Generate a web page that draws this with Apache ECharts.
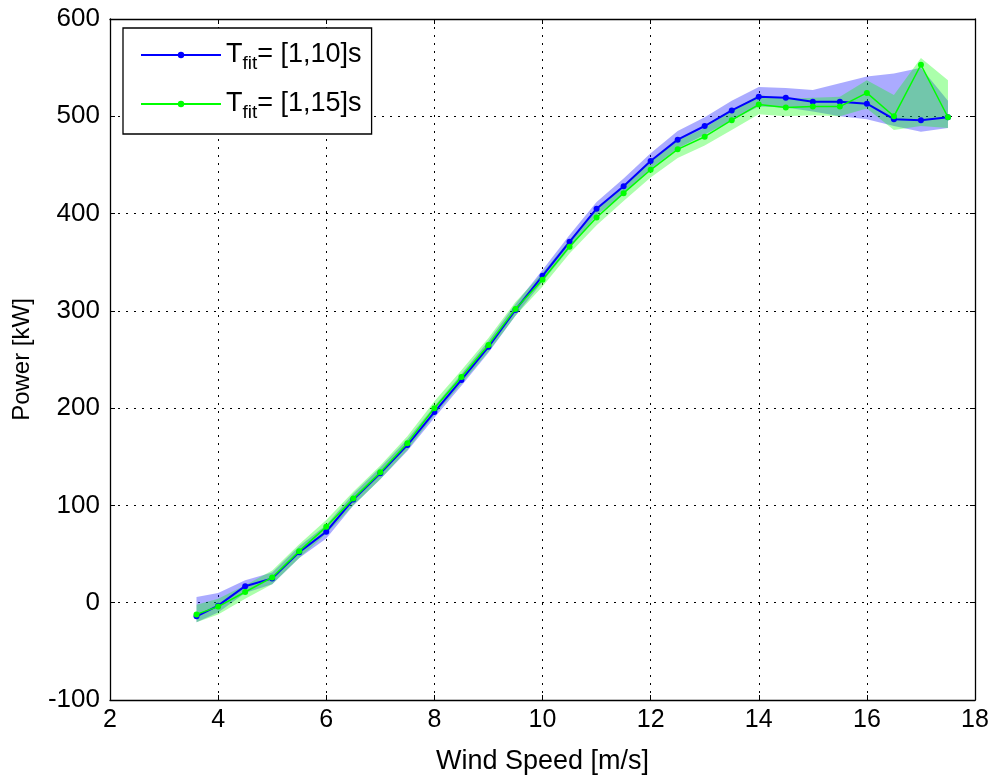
<!DOCTYPE html>
<html>
<head>
<meta charset="utf-8">
<script src="https://cdn.jsdelivr.net/npm/echarts@6/dist/echarts.min.js"></script>
<style>
html,body{margin:0;padding:0;background:#fff;}
#chart{width:992px;height:778px;}
</style>
</head>
<body>
<div id="chart"></div>
<script>
const windSpeed = [3.6, 4, 4.5, 5, 5.5, 6, 6.5, 7, 7.5, 8, 8.5, 9, 9.5, 10, 10.5, 11, 11.5, 12, 12.5, 13, 13.5, 14, 14.5, 15, 15.5, 16, 16.5, 17, 17.5];

const power10 = [-14, -3, 17, 25, 52, 73, 106, 133, 162, 196, 229, 263, 301, 336, 371, 405, 428, 454, 476, 490, 506, 520, 519, 515, 515, 513, 497, 496, 499];
const power10Upper = [6, 10, 23, 31, 58, 80, 112, 139, 168, 202, 235, 269, 307, 342, 378, 412, 436, 462, 485, 499, 516, 530, 529, 527, 534, 541, 544, 550, 516];
const power10Lower = [-20, -10, 10, 19, 46, 66, 100, 127, 156, 190, 223, 257, 295, 330, 364, 398, 420, 446, 467, 481, 496, 510, 509, 505, 500, 497, 490, 484, 488];

const power15 = [-12, -4, 11, 26, 53, 78, 107, 134, 164, 200, 232, 265, 302, 332, 366, 396, 421, 445, 466, 479, 496, 512, 509, 510, 510, 524, 500, 553, 499];
const power15Upper = [-2, 4, 18, 33, 60, 85, 114, 141, 171, 207, 239, 272, 309, 339, 373, 404, 429, 453, 475, 488, 506, 522, 518, 519, 520, 537, 522, 560, 537];
const power15Lower = [-20, -12, 4, 19, 46, 71, 100, 127, 157, 193, 225, 258, 295, 325, 359, 388, 413, 437, 457, 470, 486, 502, 500, 501, 500, 508, 486, 490, 488];

const xTicks = [2, 4, 6, 8, 10, 12, 14, 16, 18];
const yTicks = [-100, 0, 100, 200, 300, 400, 500, 600];
const seriesNames = ['T_fit= [1,10]s', 'T_fit= [1,15]s'];

const FONT = "'Liberation Sans', Arial, sans-serif";

function pairs(ys) { return windSpeed.map((x, i) => [x, ys[i]]); }

function bandSeries(upper, lower, fill, z) {
  return {
    type: 'custom',
    silent: true,
    z: z,
    data: [0],
    clip: true,
    encode: {x: -1, y: -1},
    renderItem: function (params, api) {
      const pts = [];
      for (let i = 0; i < windSpeed.length; i++) pts.push(api.coord([windSpeed[i], upper[i]]));
      for (let i = windSpeed.length - 1; i >= 0; i--) pts.push(api.coord([windSpeed[i], lower[i]]));
      return {type: 'polygon', shape: {points: pts}, style: {fill: fill, stroke: null}};
    }
  };
}

const chart = echarts.init(document.getElementById('chart'), null, {renderer: 'canvas'});

const gridLine = {show: true, lineStyle: {color: '#000', width: 1, type: [2, 6]}};
const axisLine = {show: true, onZero: false, lineStyle: {color: '#000', width: 1.3}};
const axisTick = {show: true, inside: true, length: 5, lineStyle: {color: '#000', width: 1}};

const option = {
  backgroundColor: '#fff',
  animation: false,
  grid: {left: 110, right: 17, top: 19, bottom: 78, containLabel: false, outerBoundsMode: 'none'},
  legend: {
    data: seriesNames,
    orient: 'vertical',
    left: 123,
    top: 28,
    padding: [12, 10, 12, 17],
    itemGap: 16,
    itemWidth: 80,
    itemHeight: 8,
    backgroundColor: '#fff',
    borderColor: '#000',
    borderWidth: 1.3,
    borderRadius: 0,
    formatter: function (name) {
      const rest = name.replace('T_fit', '');
      return '{t|T}{s|fit}{t|' + rest + '}';
    },
    textStyle: {
      color: '#000',
      fontFamily: FONT,
      rich: {
        t: {fontSize: 27, fontFamily: FONT, color: '#000', lineHeight: 36, verticalAlign: 'middle'},
        s: {fontSize: 19, fontFamily: FONT, color: '#000', lineHeight: 36, verticalAlign: 'bottom', padding: [14, 0, 0, 0]}
      }
    }
  },
  xAxis: [{
    type: 'value', min: xTicks[0], max: xTicks[xTicks.length - 1], interval: 2,
    position: 'bottom',
    name: 'Wind Speed [m/s]', nameLocation: 'middle', nameGap: 48,
    nameTextStyle: {fontSize: 27, fontFamily: FONT, color: '#000'},
    axisLine: axisLine, axisTick: axisTick,
    axisLabel: {fontSize: 25, fontFamily: FONT, color: '#000', margin: 8},
    splitLine: gridLine
  }, {
    type: 'value', min: xTicks[0], max: xTicks[xTicks.length - 1], interval: 2,
    position: 'top',
    axisLine: axisLine, axisTick: axisTick,
    axisLabel: {show: false}, splitLine: {show: false}
  }],
  yAxis: [{
    type: 'value', min: yTicks[0], max: yTicks[yTicks.length - 1], interval: 100,
    position: 'left',
    name: 'Power [kW]', nameLocation: 'middle', nameGap: 76,
    nameTextStyle: {fontSize: 24, fontFamily: FONT, color: '#000'},
    axisLine: axisLine, axisTick: axisTick,
    axisLabel: {fontSize: 26, fontFamily: FONT, color: '#000', margin: 10},
    splitLine: gridLine
  }, {
    type: 'value', min: yTicks[0], max: yTicks[yTicks.length - 1], interval: 100,
    position: 'right',
    axisLine: axisLine, axisTick: axisTick,
    axisLabel: {show: false}, splitLine: {show: false}
  }],
  series: [
    bandSeries(power10Upper, power10Lower, 'rgba(0,0,255,0.33)', 1),
    bandSeries(power15Upper, power15Lower, 'rgba(0,255,0,0.33)', 2),
    {name: seriesNames[0], type: 'line', data: pairs(power10), z: 3,
     symbol: 'circle', symbolSize: 6, showSymbol: true,
     color: '#0000ff', itemStyle: {color: '#0000ff'}, lineStyle: {color: '#0000ff', width: 2}},
    {name: seriesNames[1], type: 'line', data: pairs(power15), z: 4,
     symbol: 'circle', symbolSize: 6, showSymbol: true,
     color: '#00ff00', itemStyle: {color: '#00ff00'}, lineStyle: {color: '#00ff00', width: 1.5}}
  ]
};
chart.setOption(option);
</script>
</body>
</html>
